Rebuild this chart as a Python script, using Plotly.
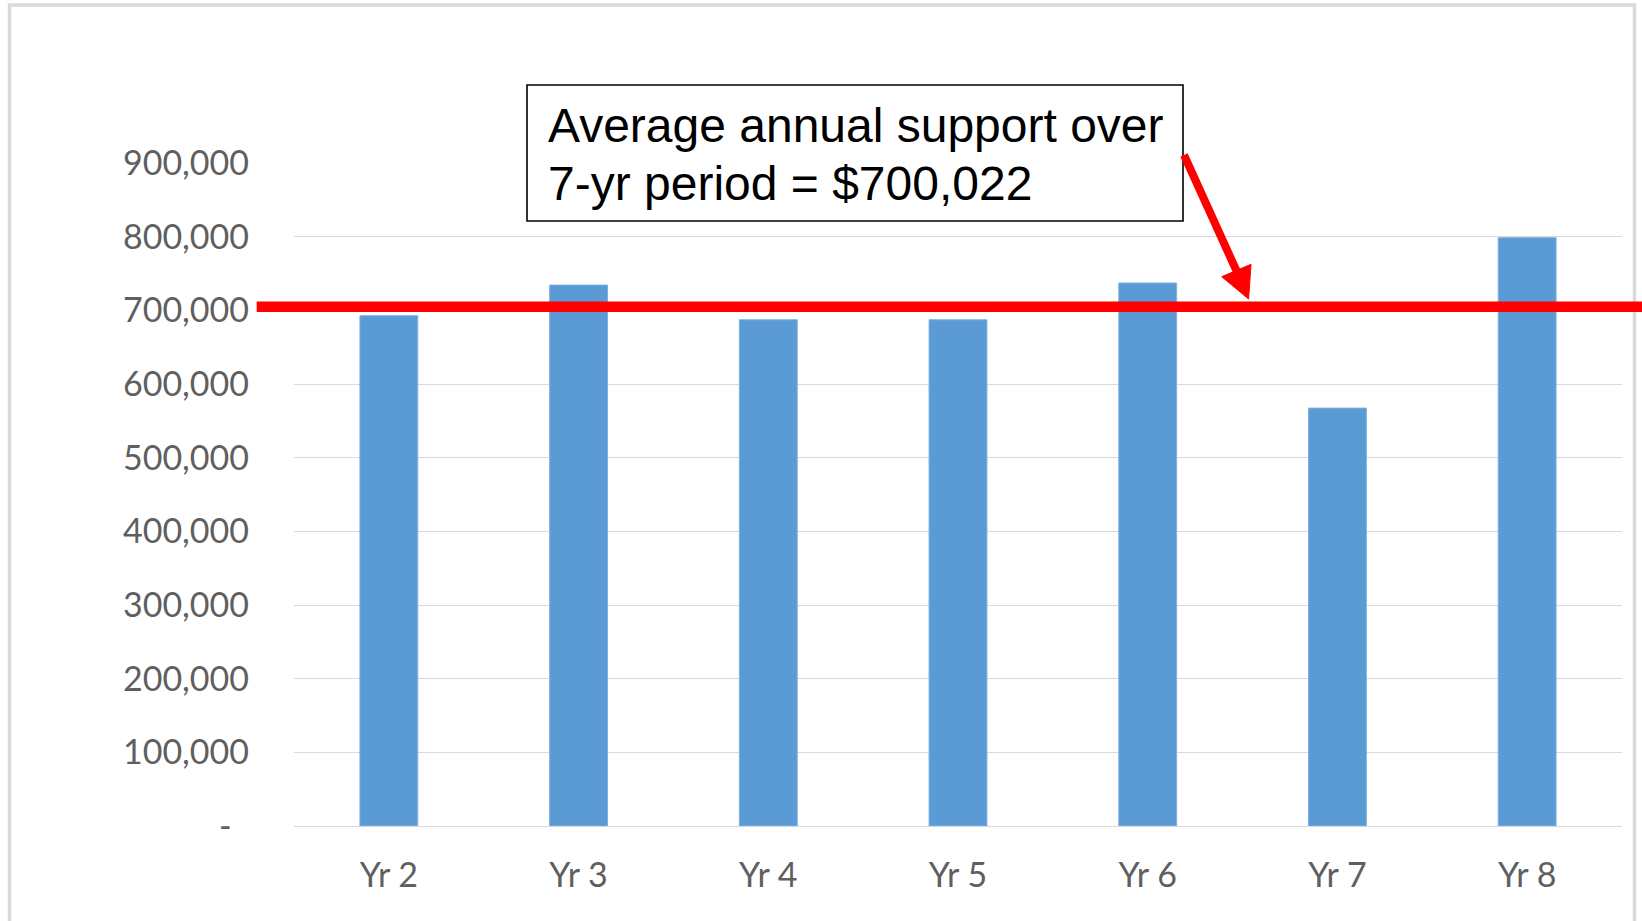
import plotly.graph_objects as go

# ---- data ----
years = ["Yr 2", "Yr 3", "Yr 4", "Yr 5", "Yr 6", "Yr 7", "Yr 8"]
support = [692700, 734300, 687200, 687200, 737100, 567300, 798600]
y_tick_vals = [0, 100000, 200000, 300000, 400000, 500000, 600000, 700000, 800000, 900000]
y_tick_text = ["-\u00a0\u00a0", "100,000", "200,000", "300,000", "400,000", "500,000",
               "600,000", "700,000", "800,000", "900,000"]
avg_line_level = 705000          # where the red average line sits on the value axis
note_lines = ["Average annual support over", "7-yr period = $700,022"]

# ---- layout geometry (pixels) ----
W, H = 1642, 921
L, R, T, B = 294, 20, 163, 95
PW, PH = W - L - R, H - T - B


def px_x(p):
    return (p - L) / PW


def px_y(p):
    return (H - B - p) / PH


fig = go.Figure()
fig.add_trace(go.Bar(
    x=years, y=support,
    marker=dict(color="#5b9bd5", line=dict(color="#7fb0e0", width=1)),
    width=0.305,
    hoverinfo="skip",
))

axis_font = dict(family="Lato, Open Sans, sans-serif", size=34, color="#5f5f5f")

fig.update_layout(
    width=W, height=H,
    margin=dict(l=L, r=R, t=T, b=B, autoexpand=False),
    paper_bgcolor="white", plot_bgcolor="white",
    showlegend=False,
    xaxis=dict(
        showgrid=False, showline=False, zeroline=False, ticks="",
        tickfont=axis_font, ticklabelstandoff=26,
    ),
    yaxis=dict(
        range=[0, 900000], tickvals=y_tick_vals, ticktext=y_tick_text,
        showgrid=True, gridcolor="#d9d9d9", gridwidth=1.3,
        zeroline=True, zerolinecolor="#d9d9d9", zerolinewidth=1.3,
        showline=False, ticks="", tickfont=axis_font, ticklabelstandoff=44,
    ),
)

shapes = []
# outer light-grey frame
shapes.append(dict(type="rect", xref="paper", yref="paper",
                   x0=px_x(9.5), x1=px_x(1634.5), y0=px_y(940), y1=px_y(5),
                   line=dict(color="#d9d9d9", width=3.5), fillcolor="rgba(0,0,0,0)",
                   layer="above"))
# red average line
shapes.append(dict(type="line", xref="paper", yref="y",
                   x0=px_x(256.7), x1=px_x(1660), y0=avg_line_level, y1=avg_line_level,
                   line=dict(color="#ff0000", width=10.5), layer="above"))
# callout box
shapes.append(dict(type="rect", xref="paper", yref="paper",
                   x0=px_x(527), x1=px_x(1183), y0=px_y(221), y1=px_y(85),
                   line=dict(color="black", width=1.6), fillcolor="white", layer="above"))
# arrow shaft
shapes.append(dict(type="line", xref="paper", yref="paper",
                   x0=px_x(1184), y0=px_y(155), x1=px_x(1237.5), y1=px_y(273),
                   line=dict(color="#ff0000", width=8), layer="above"))
# arrow head
tip = (px_x(1248.6), px_y(299))
lw = (px_x(1221.7), px_y(276.7))
rw = (px_x(1251.0), px_y(264.3))
shapes.append(dict(type="path", xref="paper", yref="paper",
                   path=f"M {tip[0]} {tip[1]} L {lw[0]} {lw[1]} L {rw[0]} {rw[1]} Z",
                   fillcolor="#ff0000", line=dict(color="#ff0000", width=1), layer="above"))
fig.update_layout(shapes=shapes)

line_centres = [125.7, 183.3]
for txt, yc in zip(note_lines, line_centres):
    fig.add_annotation(
        text=txt, xref="paper", yref="paper", x=px_x(546), y=px_y(yc),
        xanchor="left", yanchor="middle", showarrow=False,
        font=dict(family="Liberation Sans, Arial, sans-serif", size=48, color="black"),
    )

fig.write_html("out.html", config={"displayModeBar": False},
               post_script="document.body.style.margin='0';")
